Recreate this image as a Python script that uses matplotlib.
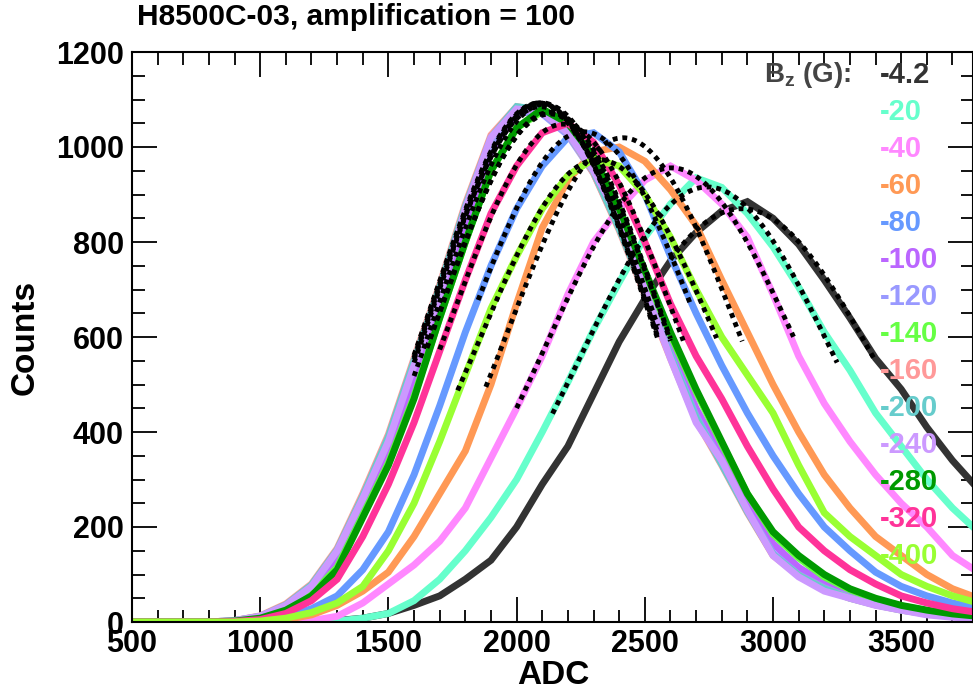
import numpy as np
import matplotlib
matplotlib.use("Agg")
import matplotlib.pyplot as plt

plt.rcParams['font.family'] = ['Liberation Sans', 'DejaVu Sans']
plt.rcParams['font.weight'] = 'bold'
plt.rcParams['mathtext.fontset'] = 'custom'
plt.rcParams['mathtext.rm'] = 'Liberation Sans:bold'
plt.rcParams['mathtext.bf'] = 'Liberation Sans:bold'

# ADC bin centres (every 100 counts)
adc = np.arange(500, 3801, 100)

# counts, one list per field value
bz_labels = ['-4.2', '-20', '-40', '-60', '-80', '-100', '-120', '-140',
             '-160', '-200', '-240', '-280', '-320', '-400']
colors = ['#333333', '#66ffcc', '#ff88ff', '#ff9955', '#6699ff', '#bb66ff',
          '#9999ff', '#66ff44', '#ff9999', '#66cccc', '#cc99ff', '#009900',
          '#ff3399', '#99ff33']

c_m4 = [0, 0, 0, 0, 0, 0, 0, 1, 3, 8, 18, 35, 55, 90, 130, 200, 290, 370, 480, 590,
        680, 760, 820, 865, 885, 850, 795, 720, 640, 555, 490, 410, 340, 280]
c_m20 = [0, 0, 0, 0, 0, 0, 0, 1, 2, 8, 18, 45, 90, 150, 220, 300, 400, 505, 615, 715,
         810, 880, 935, 915, 860, 790, 705, 610, 530, 440, 370, 300, 240, 190]
c_m40 = [0, 0, 0, 0, 0, 0, 1, 3, 12, 40, 80, 120, 170, 240, 345, 450, 560, 690, 800, 870,
         930, 960, 930, 880, 810, 690, 560, 460, 380, 310, 250, 200, 140, 105]
c_m60 = [0, 0, 0, 0, 0, 0, 5, 15, 35, 65, 105, 180, 270, 360, 500, 670, 830, 930, 990, 1000,
         970, 910, 835, 720, 610, 500, 400, 310, 240, 180, 140, 100, 70, 50]
c_m80 = [0, 0, 0, 0, 0, 3, 10, 28, 55, 110, 190, 310, 455, 610, 750, 870, 960, 1020, 1030, 990,
         900, 770, 650, 540, 440, 350, 270, 200, 150, 105, 75, 55, 40, 30]
c_m100 = [0, 0, 0, 0, 2, 10, 30, 65, 130, 240, 360, 510, 670, 840, 990, 1070, 1080, 1040, 960, 850,
          720, 580, 450, 350, 250, 165, 115, 82, 58, 42, 30, 21, 15, 11]
c_m120 = [0, 0, 0, 0, 3, 12, 35, 75, 150, 260, 385, 545, 700, 870, 1010, 1075, 1070, 1025, 945, 830,
          700, 565, 435, 335, 235, 145, 100, 72, 52, 37, 26, 18, 12, 9]
c_m140 = [0, 0, 0, 0, 2, 8, 26, 58, 115, 225, 335, 475, 640, 800, 950, 1040, 1075, 1045, 975, 865,
          735, 605, 485, 375, 270, 185, 135, 95, 68, 48, 34, 24, 17, 12]
c_m160 = [0, 0, 0, 0, 3, 13, 38, 80, 155, 270, 395, 555, 710, 880, 1025, 1085, 1075, 1030, 945, 825,
          690, 555, 425, 330, 230, 140, 98, 70, 50, 36, 25, 17, 12, 8]
c_m200 = [0, 0, 0, 0, 3, 12, 36, 78, 152, 265, 390, 550, 705, 875, 1020, 1085, 1078, 1030, 948, 828,
          695, 560, 430, 332, 232, 142, 98, 70, 50, 36, 25, 17, 12, 8]
c_m240 = [0, 0, 0, 0, 3, 12, 35, 75, 150, 260, 380, 540, 690, 870, 1020, 1080, 1075, 1030, 950, 850,
          700, 555, 420, 340, 235, 140, 95, 65, 50, 35, 25, 15, 10, 7]
c_m280 = [0, 0, 0, 0, 2, 8, 25, 55, 110, 220, 330, 470, 640, 800, 950, 1040, 1080, 1050, 980, 870,
          740, 610, 490, 380, 270, 190, 140, 100, 70, 50, 35, 25, 17, 12]
c_m320 = [0, 0, 0, 0, 1, 5, 18, 45, 90, 180, 290, 420, 570, 720, 860, 960, 1030, 1050, 1010, 920,
          800, 670, 560, 470, 370, 280, 200, 150, 110, 80, 55, 40, 28, 20]
c_m400 = [0, 0, 0, 0, 0, 2, 8, 20, 40, 75, 150, 250, 380, 520, 660, 770, 870, 940, 975, 960,
          900, 810, 700, 600, 520, 440, 330, 230, 180, 140, 100, 75, 55, 40]

all_counts = [c_m4, c_m20, c_m40, c_m60, c_m80, c_m100, c_m120, c_m140,
              c_m160, c_m200, c_m240, c_m280, c_m320, c_m400]

# gaussian fit ranges (ADC) as seen from the dotted lines
fit_lo = [2600, 2140, 2000, 1880, 1850, 1600, 1600, 1650, 1600, 1600, 1600, 1650, 1700, 1770]
fit_hi = [3400, 3250, 3080, 2880, 2680, 2550, 2550, 2600, 2550, 2550, 2550, 2600, 2650, 2780]

fig = plt.figure(figsize=(9.73, 6.91), dpi=100)
ax = fig.add_axes([132/973, 69/691, 841/973, 570/691])

for cnt, col in zip(all_counts, colors):
    ax.plot(adc, cnt, color=col, lw=5, solid_joinstyle='miter')

# gaussian fit = quadratic fit of log(counts) inside the range
for cnt, lo, hi in zip(all_counts, fit_lo, fit_hi):
    y = np.array(cnt, dtype=float)
    m = (adc >= lo) & (adc <= hi) & (y > 0)
    p = np.polyfit(adc[m], np.log(y[m]), 2)
    xf = np.linspace(lo, hi, 200)
    ax.plot(xf, np.exp(np.polyval(p, xf)), color='black', lw=3.5,
            linestyle=(0, (1, 1.0)))

ax.set_xlim(500, 3780)
ax.set_ylim(0, 1200)
ax.set_xticks(np.arange(500, 3600, 500))
ax.set_xticks(np.arange(500, 3800, 100), minor=True)
ax.set_yticks(np.arange(0, 1201, 200))
ax.set_yticks(np.arange(0, 1201, 50), minor=True)
ax.tick_params(which='both', direction='in', top=True, right=True, width=1.3,
               labelsize=22)
ax.tick_params(which='major', length=18)
ax.tick_params(which='minor', length=9)
ax.tick_params(axis='y', pad=6)
ax.tick_params(axis='x', pad=5)
for lab in ax.get_xticklabels() + ax.get_yticklabels():
    lab.set_fontweight('bold')
for s in ax.spines.values():
    s.set_linewidth(1.5)

W, H = 973, 691
fig.text(137/W, 1 - 17/H, 'H8500C-03, amplification = 100', fontsize=21.5,
         fontweight='bold', ha='left', va='center')
fig.text(25/W, 1 - 337/H, 'Counts', fontsize=24, fontweight='bold',
         rotation=90, ha='center', va='center')
fig.text(553/W, 1 - 675/H, 'ADC', fontsize=24, fontweight='bold',
         ha='center', va='center')

fig.text(851/W, 1 - 75/H, r'B$_{\mathbf{z}}$ (G):', fontsize=20,
         fontweight='bold', color='#444444', ha='right', va='center')
for i, (lab, col) in enumerate(zip(bz_labels, colors)):
    fig.text(880/W, 1 - (75 + 37*i)/H, lab, fontsize=21, fontweight='bold',
             color=col, ha='left', va='center')

fig.savefig('out.png', dpi=100)
